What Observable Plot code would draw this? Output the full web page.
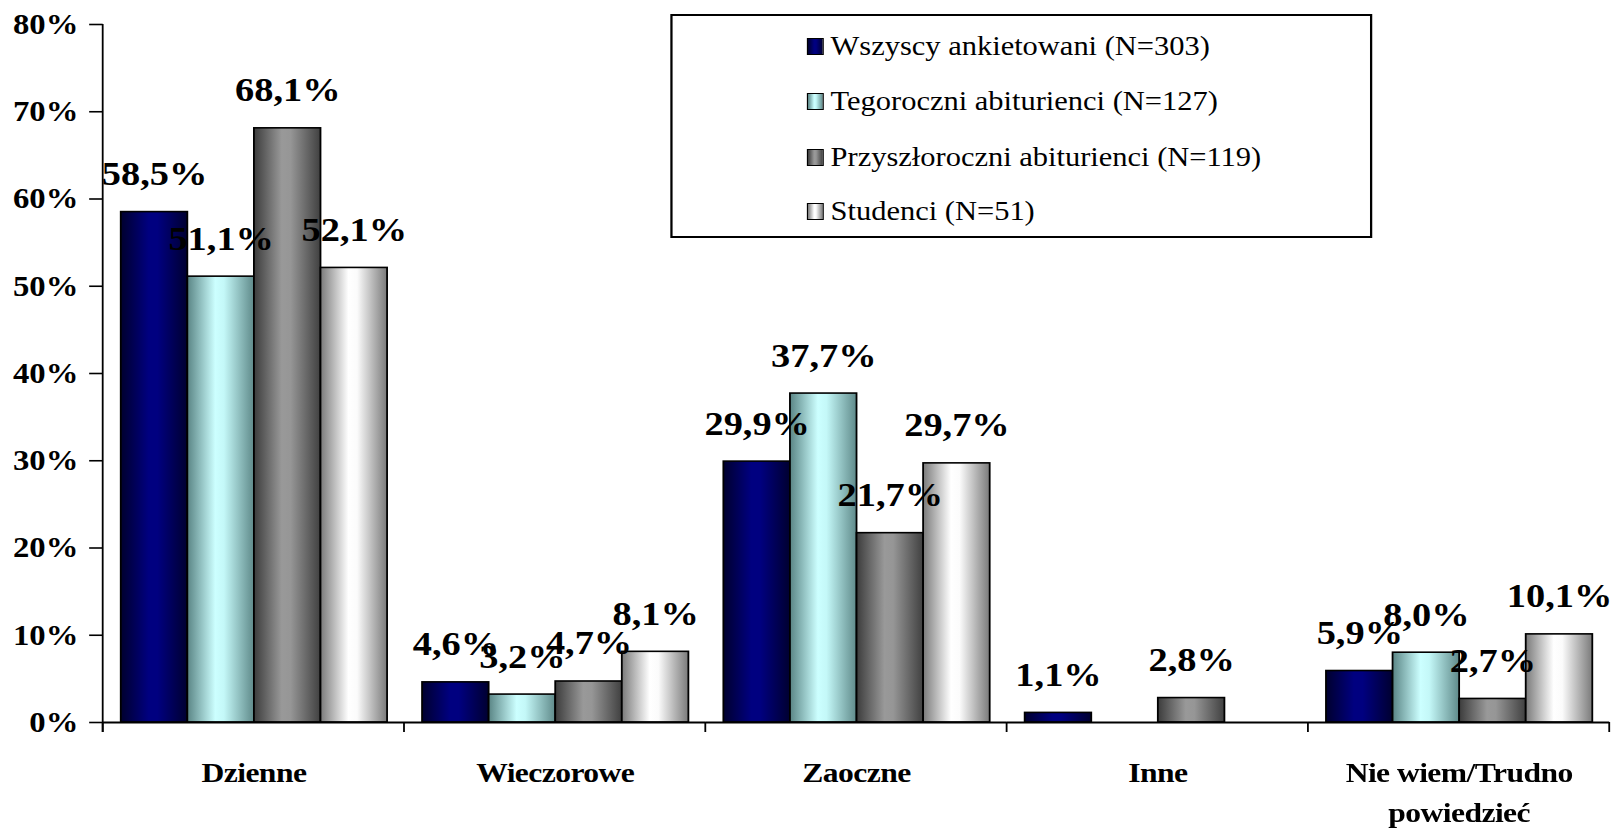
<!DOCTYPE html>
<html>
<head>
<meta charset="utf-8">
<script src="https://cdn.jsdelivr.net/npm/d3@7"></script>
<script src="https://cdn.jsdelivr.net/npm/@observablehq/plot@0.6"></script>
<style>
  html, body { margin: 0; padding: 0; background: #fff; }
  #wrap { position: relative; width: 1432px; height: 829px; transform: scaleX(1.12849); transform-origin: 0 0; }
  #legend { position: absolute; left: 594px; top: 14px; width: 618px; height: 220px; border: 2px solid #000; background: #fff;
            font-family: 'Liberation Serif', 'Times New Roman', serif; font-size: 27px; color: #000; }
  #legend .row { position: absolute; left: 0; height: 34px; display: flex; align-items: center; }
  #legend .sw { width: 15px; height: 17px; border: 1px solid #000; box-sizing: border-box; margin-left: 119px; }
  #legend .lab { margin-left: 6px; white-space: nowrap; }
  g[aria-label="fx-axis tick label"] text { letter-spacing: -0.5px; }
</style>
</head>
<body>
<div id="wrap"><div id="legend"></div></div>
<script>
// ---- data ----
const categories = ["Dzienne", "Wieczorowe", "Zaoczne", "Inne", "Nie wiem/Trudno powiedzieć"];
const seriesNames = [
  "Wszyscy ankietowani (N=303)",
  "Tegoroczni abiturienci (N=127)",
  "Przyszłoroczni abiturienci (N=119)",
  "Studenci (N=51)"
];
const wszyscy        = [58.5, 4.6, 29.9, 1.1, 5.9];
const tegoroczni     = [51.1, 3.2, 37.7, null, 8.0];
const przyszloroczni = [68.1, 4.7, 21.7, 2.8, 2.7];
const studenci       = [52.1, 8.1, 29.7, null, 10.1];
const yTicks = [0, 10, 20, 30, 40, 50, 60, 70, 80];

// ---- styles ----
const gradStops = [0, 0.42, 0.55, 1];
const gradColors = [
  ["#00002e", "#000080", "#000080", "#000030"],
  ["#5a8585", "#ccffff", "#c4f8f8", "#5f8a8a"],
  ["#3c3c3c", "#999999", "#969696", "#404040"],
  ["#7a7a7a", "#ffffff", "#fbfbfb", "#7a7a7a"]
];

const seriesValues = [wszyscy, tegoroczni, przyszloroczni, studenci];
const data = categories.flatMap((c, ci) =>
  seriesNames.map((s, si) => ({category: c, series: s, value: seriesValues[si][ci]}))
).filter(d => d.value != null);

const fmt = v => v.toFixed(1).replace(".", ",") + "%";

const plot = Plot.plot({
  width: 1432,
  height: 829,
  marginLeft: 90,
  marginRight: 6,
  marginTop: 24,
  marginBottom: 107,
  style: {fontFamily: "'Liberation Serif', 'Times New Roman', serif", fontWeight: "bold", background: "#fff", color: "#000", overflow: "visible"},
  facet: {data, x: "category"},
  fx: {domain: categories, padding: 0},
  x: {domain: seriesNames, paddingInner: 0, paddingOuter: 0.25, axis: null},
  y: {domain: [0, 80]},
  color: {domain: seriesNames, range: seriesNames.map((_, i) => `url(#grad${i})`)},
  marks: [
    Plot.barY(data, {x: "series", y: "value", fill: "series", stroke: "#000", strokeWidth: 1.6}),
    Plot.ruleY([0], {stroke: "#000", strokeWidth: 2}),
    Plot.text(data, {x: "series", y: "value", text: d => fmt(d.value), lineAnchor: "bottom", dy: -27, fontSize: 34, fill: "#000"}),
    Plot.axisY({ticks: yTicks, tickFormat: d => d + "%", tickSize: 12, tickPadding: 10, fontSize: 29, label: null, strokeWidth: 1.6}),
    Plot.axisFx({anchor: "bottom", tickSize: 0, tickPadding: 32, fontSize: 28, label: null, lineHeight: 1.4,
                 tickFormat: d => d.replace("/Trudno ", "/Trudno\n")})
  ]
});

// gradient definitions
const svg = d3.select(plot);
const defs = svg.insert("defs", ":first-child");
gradColors.forEach((cols, i) => {
  const lg = defs.append("linearGradient").attr("id", `grad${i}`).attr("x1", "0").attr("x2", "1").attr("y1", "0").attr("y2", "0");
  cols.forEach((c, k) => lg.append("stop").attr("offset", gradStops[k]).attr("stop-color", c));
});

// axis line and category boundary ticks from Plot's scales
const fx = plot.scale("fx"), y = plot.scale("y");
const xs = categories.map(c => fx.apply(c));
xs.push(xs[xs.length - 1] + fx.bandwidth);
const y0 = y.apply(0), yTop = y.apply(80);
const ax = svg.append("g").attr("stroke", "#000").attr("stroke-width", 1.6);
ax.append("line").attr("x1", xs[0]).attr("x2", xs[0]).attr("y1", yTop).attr("y2", y0 + 10);
xs.forEach(x => ax.append("line").attr("x1", x).attr("x2", x).attr("y1", y0).attr("y2", y0 + 10));

document.getElementById("wrap").prepend(plot);

// legend
const legend = d3.select("#legend");
const rowTops = [13, 68, 124, 178];
seriesNames.forEach((s, i) => {
  const row = legend.append("div").attr("class", "row").style("top", rowTops[i] + "px");
  const stops = gradColors[i].map((c, k) => `${c} ${gradStops[k] * 100}%`).join(", ");
  row.append("div").attr("class", "sw").style("background", `linear-gradient(to right, ${stops})`);
  row.append("div").attr("class", "lab").text(s);
});
</script>
</body>
</html>
